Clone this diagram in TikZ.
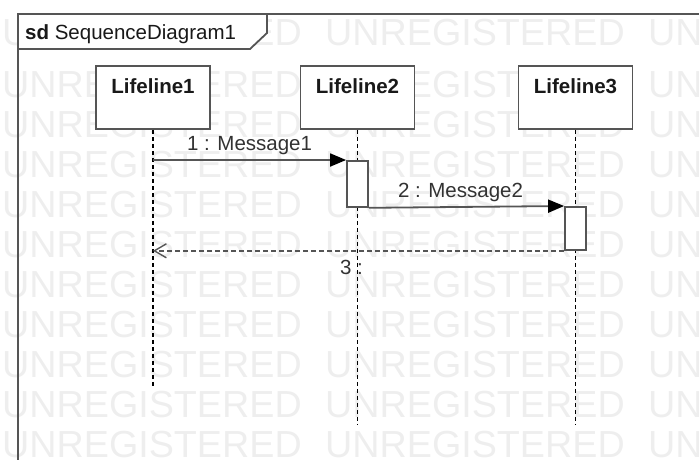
\documentclass[tikz,border=0pt]{standalone}
\usepackage{fontspec}
\setmainfont{Liberation Sans}
\usepackage{tikz}
\usetikzlibrary{
    positioning,
    arrows.meta,
    calc
}
\definecolor{frameGray}{RGB}{85, 85, 85}
\definecolor{markGray}{RGB}{238, 238, 238}
\definecolor{textDark}{RGB}{25, 25, 25}
\definecolor{labelGray}{RGB}{50, 50, 50}

\begin{document}
\begin{tikzpicture}[x=1pt, y=-1pt,
    frame/.style={draw=frameGray, line width=1.8pt},
    lifebox/.style={draw=frameGray, line width=1.8pt, fill=white, anchor=north,
        minimum width=114pt, inner sep=0pt, text height=28pt, text depth=35pt,
        font=\fontsize{20.5}{24}\selectfont\bfseries, text=textDark},
    actbox/.style={draw=frameGray, line width=1.8pt, fill=white, anchor=north,
        minimum width=21pt, inner sep=0pt},
    lifeline/.style={black, line width=1.2pt, dash pattern=on 4pt off 3pt},
    msg/.style={draw=frameGray, line width=1.8pt},
    reply/.style={draw=frameGray, line width=1.8pt, dash pattern=on 5pt off 3pt},
    msglabel/.style={font=\fontsize{20.5}{24}\selectfont, text=labelGray, inner sep=0pt},
    wmark/.style={anchor=base west, inner sep=0pt, text=markGray,
        font=\fontsize{37.7}{40}\selectfont}
]
        \useasboundingbox (0,0) rectangle (699,459);
        \clip (0,0) rectangle (699,459);

        % Watermark
        \foreach \wy [count=\r] in {45,97,137,177,217,257,297,337,377,417,457}
            \foreach \wx [count=\c] in {2,325,648}
                \node[wmark] (wm-\r-\c) at (\wx,\wy) {UNREGISTERED};

        % Frame and tag
        \draw[frame] (18,470) -- (18,14) -- (710,14);
        \draw[frame, fill=white] (18,14) -- (267,14) -- (267,33) -- (250,49) -- (18,49) -- cycle;
        \node[anchor=base west, inner sep=0pt, font=\fontsize{20.5}{24}\selectfont, text=textDark]
            (title) at (25,39) {\textbf{sd} SequenceDiagram1};

        % Lifelines
        \node[lifebox] (life1) at (153,65) {Lifeline1};
        \node[lifebox] (life2) at (357.5,65) {Lifeline2};
        \node[lifebox] (life3) at (575.5,65) {Lifeline3};
        \coordinate (end1) at (153,388);
        \coordinate (end2) at (357.5,424);
        \coordinate (end3) at (575.5,424);
        \draw[lifeline] (life1) -- (end1);
        \draw[lifeline] (life2) -- (end2);
        \draw[lifeline] (life3) -- (end3);

        % Activations
        \node[actbox, minimum height=46pt] (act2) at (357.5,160) {};
        \node[actbox, minimum height=43pt] (act3) at (575.5,206) {};

        % Messages
        \draw[msg, -{Triangle[length=16pt, width=13pt, black]}] (life1 |- act2.north) -- (act2.north west)
            node[msglabel, midway, above=4.7pt] (m1) {1 : Message1};
        \draw[msg, -{Triangle[length=16pt, width=13pt, black]}] (act2.south east) -- (act3.north west)
            node[msglabel, midway, above=4.7pt, xshift=-6pt] (m2) {2 : Message2};
        \draw[reply, -{Straight Barb[length=12pt, width=14pt, line width=1.4pt]}] (act3.south west) -- (life1 |- act3.south)
            node[msglabel, midway, below=8pt, xshift=-7pt] (m3) {3 :};
    \end{tikzpicture}
\end{document}
